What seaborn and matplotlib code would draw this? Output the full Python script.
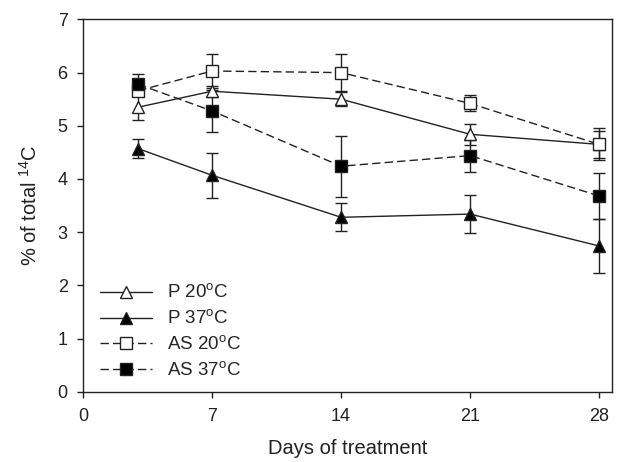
"""
Udeo 14C po danima tretmana (P i AS, 20 i 37 stepeni)
"""

import pandas as pd
import seaborn as sns
import matplotlib.pyplot as plt

sns.set_theme(style="ticks")
plt.rcParams['font.family'] = ['Liberation Sans', 'DejaVu Sans']
plt.rcParams['mathtext.fontset'] = 'custom'
plt.rcParams['mathtext.rm'] = 'Liberation Sans'

# Podaci procitani sa slike
days = [3, 7, 14, 21, 28]
p20 = [5.35, 5.65, 5.50, 4.84, 4.65]
p20_err = [0.24, 0.10, 0.13, 0.20, 0.25]
p37 = [4.57, 4.07, 3.28, 3.34, 2.74]
p37_err = [0.18, 0.42, 0.26, 0.36, 0.50]
as20 = [5.66, 6.03, 6.00, 5.42, 4.65]
as20_err = [0.10, 0.32, 0.35, 0.15, 0.30]
as37 = [5.78, 5.28, 4.24, 4.44, 3.68]
as37_err = [0.20, 0.40, 0.57, 0.30, 0.43]

labels = ['P 20$^\\mathrm{o}$C', 'P 37$^\\mathrm{o}$C',
          'AS 20$^\\mathrm{o}$C', 'AS 37$^\\mathrm{o}$C']
series = [p20, p37, as20, as37]
errors = [p20_err, p37_err, as20_err, as37_err]
markers = ['^', '^', 's', 's']
fills = ['white', 'black', 'white', 'black']
styles = ['-', '-', '--', '--']

fig = plt.figure(figsize=(6.19, 4.62), dpi=100)
ax = fig.add_axes([0.134, 0.152, 0.855, 0.806])

for lab, vals, err, mk, fc, ls in zip(labels, series, errors, markers, fills, styles):
    d = pd.DataFrame({'day': days, 'val': vals})
    ax.errorbar(days, vals, yerr=err, fmt='none', ecolor='#222222',
                elinewidth=1, capsize=4, capthick=1, zorder=2)
    sns.lineplot(data=d, x='day', y='val', ax=ax, color='#222222',
                 linewidth=1, linestyle=ls, marker=mk, markersize=8,
                 markerfacecolor=fc, markeredgecolor='#222222',
                 markeredgewidth=1, label=lab, zorder=3)

for line in ax.get_lines():
    if line.get_linestyle() == '--':
        line.set_dashes((6, 3))

ax.set_xlim(0, 28.7)
ax.set_ylim(0, 7)
ax.set_xticks([0, 7, 14, 21, 28])
ax.set_yticks(range(8))
ax.tick_params(axis='x', pad=8)
ax.tick_params(axis='y', pad=7)
ax.tick_params(direction='out', length=4, width=1, labelsize=13,
               colors='#222222', top=False, right=False)
for s in ax.spines.values():
    s.set_color('#222222')
    s.set_linewidth(1)

ax.set_xlabel('Days of treatment', fontsize=14.5, color='#222222', labelpad=10)
ax.set_ylabel('% of total $^{14}$C', fontsize=14.5, color='#222222', labelpad=12)

leg = ax.legend(loc='lower left', bbox_to_anchor=(0.0, -0.013), frameon=False,
                fontsize=13.5, handlelength=2.8, handletextpad=0.8,
                labelspacing=0.38)
for h in leg.get_lines():
    h.set_linewidth(1)
    if h.get_linestyle() == '--':
        h.set_dashes((6, 3))

plt.savefig('out.png', dpi=100)
